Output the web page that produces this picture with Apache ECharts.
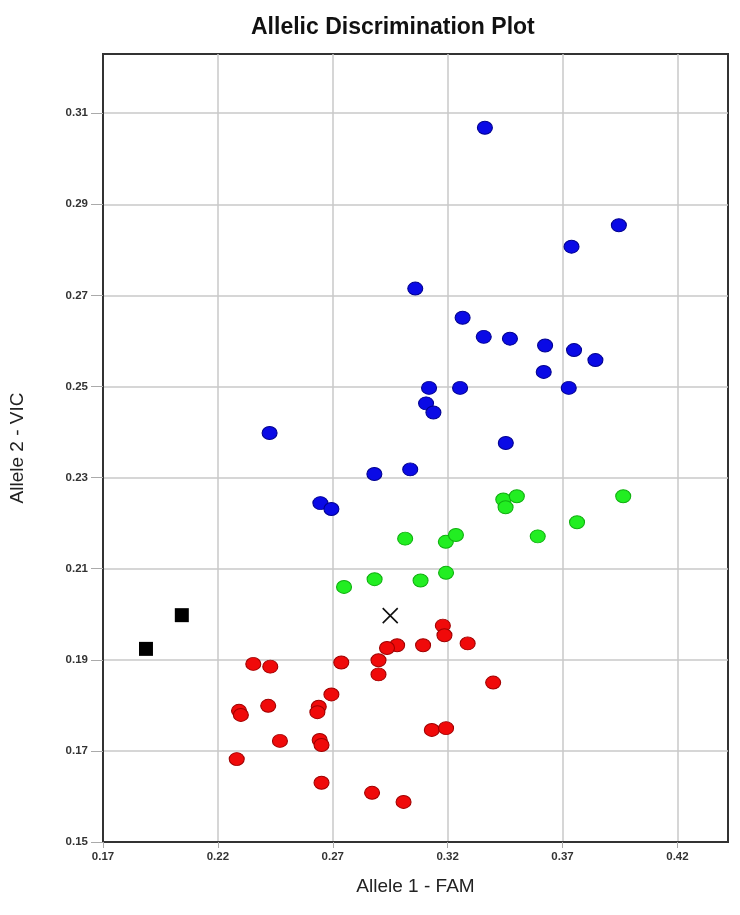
<!DOCTYPE html>
<html>
<head>
<meta charset="utf-8">
<script src="https://cdn.jsdelivr.net/npm/echarts@6/dist/echarts.min.js"></script>
<style>
    html, body { margin: 0; padding: 0; background: #fff; }
    #chart { width: 740px; height: 915px; }
</style>
</head>
<body>
<div id="chart"></div>
<script>
    // 数据 (Allele 1 - FAM, Allele 2 - VIC)
    var vicPoints = [
        [0.3362, 0.3068], [0.3945, 0.2854], [0.3739, 0.2807], [0.3059, 0.2715],
        [0.3265, 0.2651], [0.3357, 0.2609], [0.3471, 0.2605], [0.3624, 0.2590],
        [0.3750, 0.2580], [0.3843, 0.2558], [0.3618, 0.2532], [0.3119, 0.2497],
        [0.3254, 0.2497], [0.3727, 0.2497], [0.3106, 0.2463], [0.3138, 0.2443],
        [0.2425, 0.2398], [0.3453, 0.2376], [0.3037, 0.2318], [0.2881, 0.2308],
        [0.2646, 0.2244], [0.2694, 0.2231]
    ]
    var hetPoints = [
        [0.3442, 0.2252], [0.3501, 0.2259], [0.3452, 0.2235], [0.3964, 0.2259],
        [0.3763, 0.2202], [0.3015, 0.2166], [0.3192, 0.2159], [0.3236, 0.2174],
        [0.3592, 0.2171], [0.3193, 0.2091], [0.3082, 0.2074], [0.2749, 0.2060],
        [0.2882, 0.2077]
    ]
    var famPoints = [
        [0.3179, 0.1975], [0.3186, 0.1954], [0.3287, 0.1936], [0.3093, 0.1932],
        [0.2980, 0.1932], [0.2936, 0.1926], [0.2899, 0.1899], [0.2899, 0.1868],
        [0.2737, 0.1894], [0.2354, 0.1891], [0.2428, 0.1885], [0.2694, 0.1824],
        [0.2639, 0.1797], [0.2633, 0.1785], [0.2419, 0.1799], [0.2292, 0.1788],
        [0.2300, 0.1779], [0.2470, 0.1722], [0.2643, 0.1724], [0.2651, 0.1713],
        [0.2282, 0.1682], [0.2651, 0.1630], [0.2871, 0.1608], [0.3008, 0.1588],
        [0.3131, 0.1746], [0.3193, 0.1750], [0.3398, 0.1850]
    ]
    var ntcPoints = [[0.2043, 0.1998], [0.1887, 0.1924]]
    var undeterminedPoints = [[0.2950, 0.1997]]

    var xMin = 0.17, xMax = 0.442, xStep = 0.05
    var yMin = 0.15, yMax = 0.323, yStep = 0.02

    var chart = echarts.init(document.getElementById('chart'))

    var axisLabelStyle = {
        color: '#333',
        fontSize: 11.5,
        fontWeight: 'bold',
        fontFamily: 'Liberation Sans',
        showMaxLabel: false
    }

    var gridLine = {
        show: true,
        showMinLine: false,
        showMaxLine: false,
        lineStyle: { color: '#c8c8c8', width: 1.5 }
    }

    function dots(name, data, color, border) {
        return {
            name: name,
            type: 'scatter',
            data: data,
            symbol: 'circle',
            symbolSize: [15, 13],
            itemStyle: { color: color, borderColor: border, borderWidth: 1, opacity: 1 }
        }
    }

    chart.setOption({
        animation: false,
        title: {
            text: 'Allelic Discrimination Plot',
            left: 246,
            top: 11,
            textStyle: {
                fontFamily: 'Liberation Sans',
                fontSize: 23,
                fontWeight: 'bold',
                color: '#111'
            }
        },
        grid: {
            left: 101,
            right: 12,
            top: 54,
            bottom: 73,
            show: true,
            borderColor: '#333',
            borderWidth: 2
        },
        xAxis: {
            type: 'value',
            min: xMin,
            max: xMax,
            interval: xStep,
            name: 'Allele 1 - FAM',
            nameLocation: 'middle',
            nameGap: 35,
            nameTextStyle: { fontFamily: 'Liberation Sans', fontSize: 19, color: '#222' },
            axisLine: { show: true, onZero: false, lineStyle: { color: '#333', width: 2 } },
            axisTick: { show: true, length: 6, lineStyle: { color: '#aaa' } },
            axisLabel: Object.assign({ margin: 9 }, axisLabelStyle),
            splitLine: gridLine
        },
        yAxis: {
            type: 'value',
            min: yMin,
            max: yMax,
            interval: yStep,
            name: 'Allele 2 - VIC',
            nameLocation: 'middle',
            nameGap: 76,
            nameTextStyle: { fontFamily: 'Liberation Sans', fontSize: 19, color: '#222' },
            axisLine: { show: true, onZero: false, lineStyle: { color: '#333', width: 2 } },
            axisTick: { show: true, length: 12, lineStyle: { color: '#aaa' } },
            axisLabel: Object.assign({ margin: 15 }, axisLabelStyle),
            splitLine: gridLine
        },
        series: [
            dots('Allele 2', vicPoints, '#0a0ae6', '#000090'),
            dots('Both', hetPoints, '#22ee22', '#10b010'),
            dots('Allele 1', famPoints, '#f00a0a', '#a00000'),
            {
                name: 'NTC',
                type: 'scatter',
                data: ntcPoints,
                symbol: 'rect',
                symbolSize: 14,
                itemStyle: { color: '#000', opacity: 1 }
            },
            {
                name: 'Undetermined',
                type: 'scatter',
                data: undeterminedPoints,
                symbol: 'path://M0,0L10,10M10,0L0,10',
                symbolSize: 15,
                itemStyle: { color: 'none', borderColor: '#111', borderWidth: 1.6, opacity: 1 }
            }
        ]
    })
</script>
</body>
</html>
